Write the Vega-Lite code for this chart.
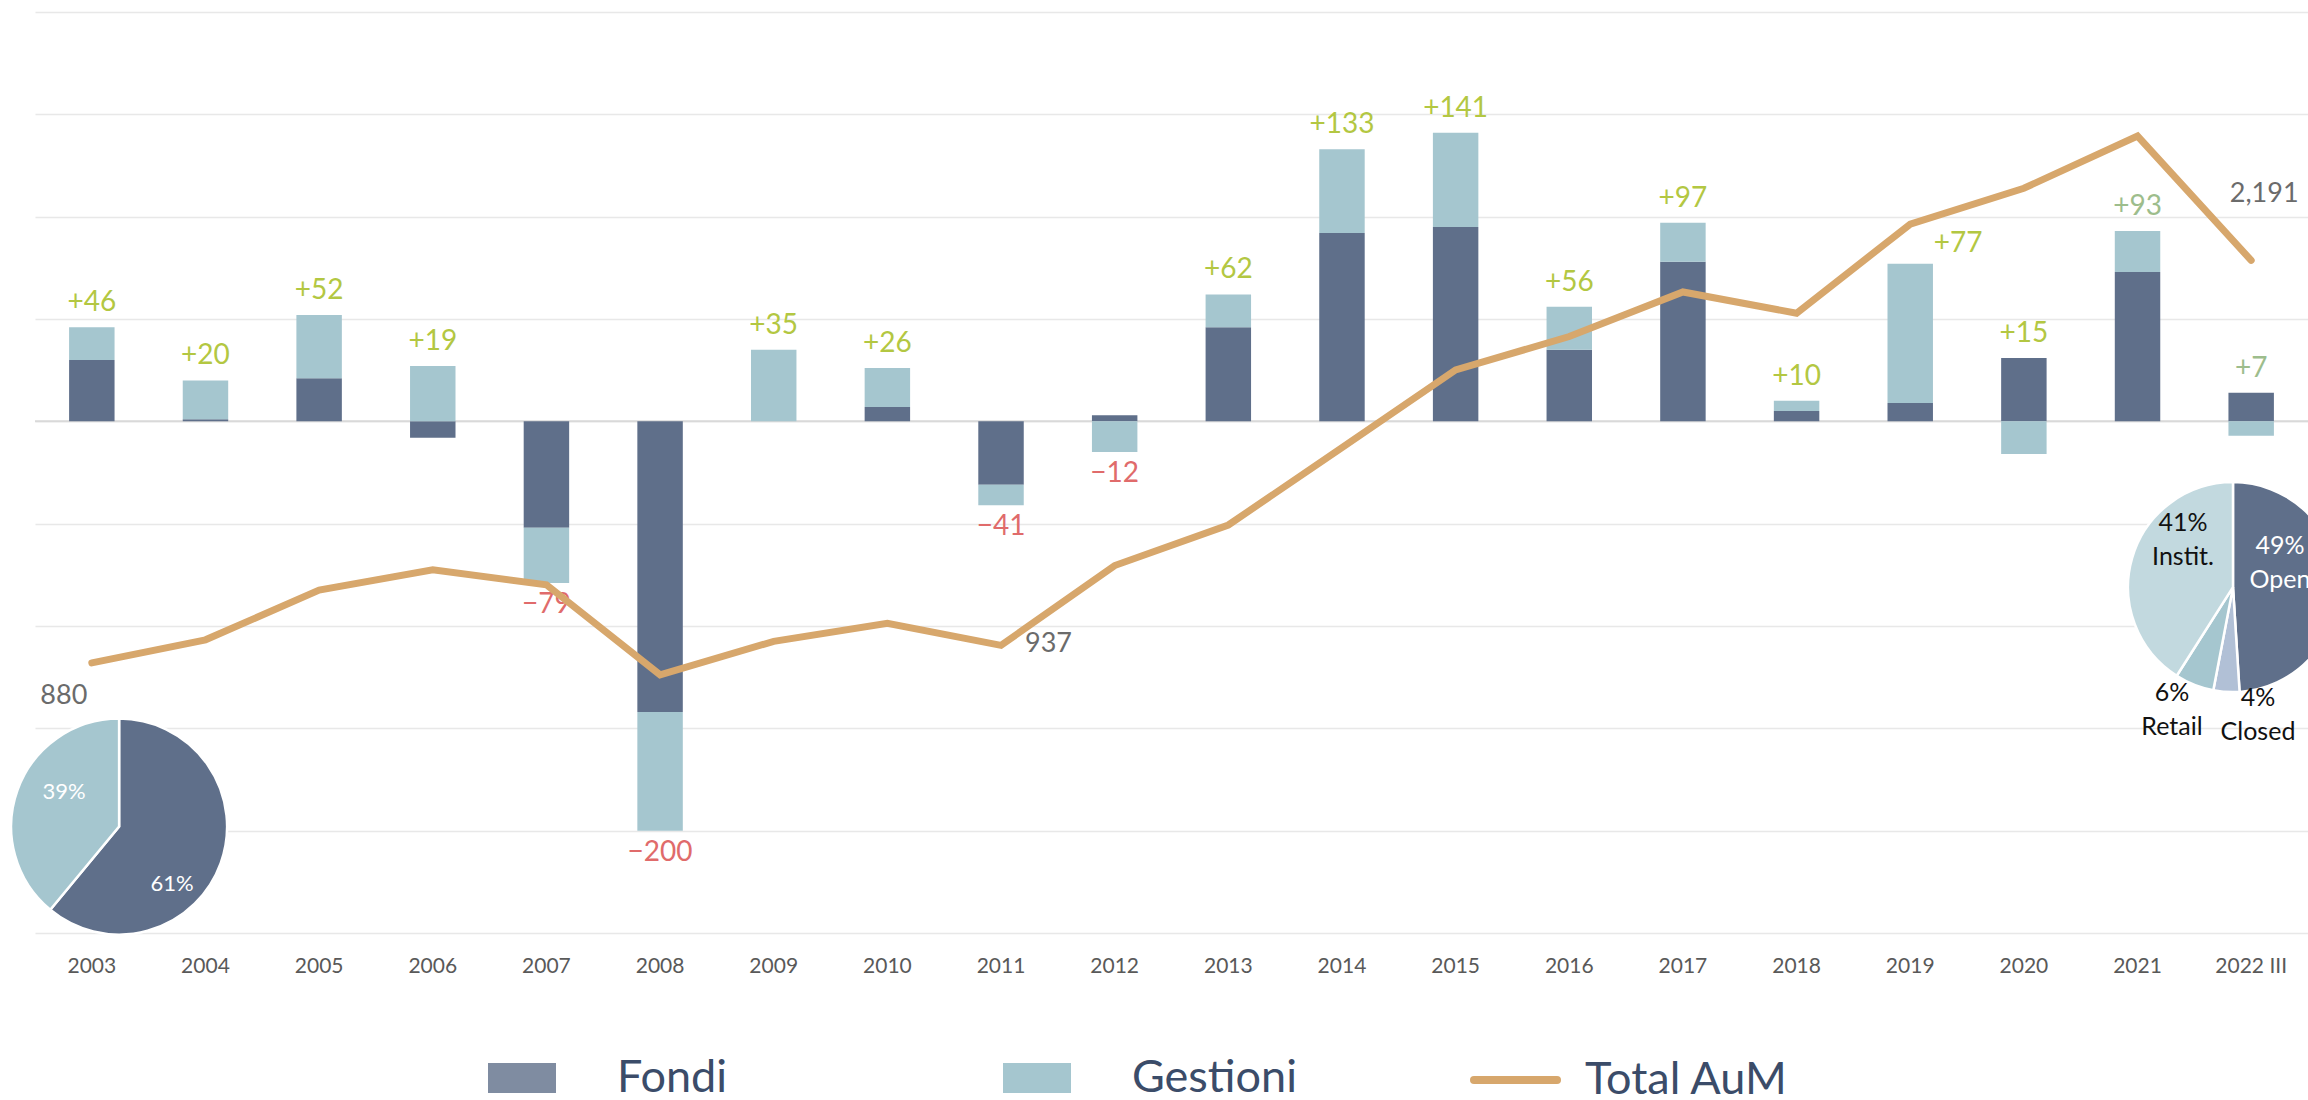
{
  "$schema": "https://vega.github.io/schema/vega-lite/v6.json",
  "width": 2273,
  "height": 921,
  "autosize": {"type": "none"},
  "padding": {"left": 35, "top": 12, "right": 0, "bottom": 167},
  "background": "#ffffff",
  "config": {"view": {"stroke": null}, "font": "Lato"},
  "datasets": {
    "flows": [
      {"year": "2003", "type": "Fondi", "value": 30}, {"year": "2003", "type": "Gestioni", "value": 16},
      {"year": "2004", "type": "Fondi", "value": 1}, {"year": "2004", "type": "Gestioni", "value": 19},
      {"year": "2005", "type": "Fondi", "value": 21}, {"year": "2005", "type": "Gestioni", "value": 31},
      {"year": "2006", "type": "Fondi", "value": -8}, {"year": "2006", "type": "Gestioni", "value": 27},
      {"year": "2007", "type": "Fondi", "value": -52}, {"year": "2007", "type": "Gestioni", "value": -27},
      {"year": "2008", "type": "Fondi", "value": -142}, {"year": "2008", "type": "Gestioni", "value": -58},
      {"year": "2009", "type": "Fondi", "value": 0}, {"year": "2009", "type": "Gestioni", "value": 35},
      {"year": "2010", "type": "Fondi", "value": 7}, {"year": "2010", "type": "Gestioni", "value": 19},
      {"year": "2011", "type": "Fondi", "value": -31}, {"year": "2011", "type": "Gestioni", "value": -10},
      {"year": "2012", "type": "Fondi", "value": 3}, {"year": "2012", "type": "Gestioni", "value": -15},
      {"year": "2013", "type": "Fondi", "value": 46}, {"year": "2013", "type": "Gestioni", "value": 16},
      {"year": "2014", "type": "Fondi", "value": 92}, {"year": "2014", "type": "Gestioni", "value": 41},
      {"year": "2015", "type": "Fondi", "value": 95}, {"year": "2015", "type": "Gestioni", "value": 46},
      {"year": "2016", "type": "Fondi", "value": 35}, {"year": "2016", "type": "Gestioni", "value": 21},
      {"year": "2017", "type": "Fondi", "value": 78}, {"year": "2017", "type": "Gestioni", "value": 19},
      {"year": "2018", "type": "Fondi", "value": 5}, {"year": "2018", "type": "Gestioni", "value": 5},
      {"year": "2019", "type": "Fondi", "value": 9}, {"year": "2019", "type": "Gestioni", "value": 68},
      {"year": "2020", "type": "Fondi", "value": 31}, {"year": "2020", "type": "Gestioni", "value": -16},
      {"year": "2021", "type": "Fondi", "value": 73}, {"year": "2021", "type": "Gestioni", "value": 20},
      {"year": "2022 III", "type": "Fondi", "value": 14}, {"year": "2022 III", "type": "Gestioni", "value": -7}
    ],
    "aum": [
      {"year": "2003", "aum": 880}, {"year": "2004", "aum": 955}, {"year": "2005", "aum": 1117},
      {"year": "2006", "aum": 1183}, {"year": "2007", "aum": 1134}, {"year": "2008", "aum": 841},
      {"year": "2009", "aum": 950}, {"year": "2010", "aum": 1009}, {"year": "2011", "aum": 937},
      {"year": "2012", "aum": 1197}, {"year": "2013", "aum": 1329}, {"year": "2014", "aum": 1581},
      {"year": "2015", "aum": 1834}, {"year": "2016", "aum": 1943}, {"year": "2017", "aum": 2088},
      {"year": "2018", "aum": 2019}, {"year": "2019", "aum": 2309}, {"year": "2020", "aum": 2426},
      {"year": "2021", "aum": 2596}, {"year": "2022 III", "aum": 2191}
    ],
    "pieA": [
      {"seg": "Fondi", "pct": 61, "k": 1, "label": "61%"},
      {"seg": "Gestioni", "pct": 39, "k": 2, "label": "39%"}
    ],
    "pieB": [
      {"seg": "Open", "pct": 49, "k": 1, "label": "49%\nOpen"},
      {"seg": "Closed", "pct": 4, "k": 2, "label": "4%\nClosed"},
      {"seg": "Retail", "pct": 6, "k": 3, "label": "6%\nRetail"},
      {"seg": "Instit.", "pct": 41, "k": 4, "label": "41%\nInstit."}
    ]
  },
  "layer": [
    {
      "layer": [
        {
          "data": {"values": [{}]},
          "mark": {"type": "rule", "color": "#d9d9d9", "strokeWidth": 2},
          "encoding": {"y": {"datum": 0, "type": "quantitative"}}
        },
        {
          "data": {"name": "flows"},
          "mark": {"type": "bar"},
          "encoding": {
            "x": {
              "field": "year", "type": "ordinal",
              "scale": {"type": "band", "paddingInner": 0.6, "paddingOuter": 0.3},
              "axis": {"title": null, "domain": false, "ticks": false, "tickSize": 0, "labelAngle": 0,
                       "labelFont": "Lato", "labelFontSize": 21, "labelColor": "#595959", "labelPadding": 22, "grid": false}
            },
            "y": {
              "field": "value", "type": "quantitative", "stack": "zero",
              "scale": {"domain": [-250, 200], "nice": false, "zero": false},
              "axis": {"title": null, "values": [-250, -200, -150, -100, -50, 0, 50, 100, 150, 200],
                       "grid": true, "gridColor": "#e8e8e8", "gridWidth": 1.5,
                       "domain": false, "ticks": false, "labels": false}
            },
            "order": {"field": "type", "sort": "ascending"},
            "color": {
              "field": "type", "type": "nominal",
              "scale": {"domain": ["Fondi", "Gestioni"], "range": ["#5f6f8a", "#a5c6cf"]},
              "legend": {
                "orient": "none", "legendX": 453, "legendY": 1066, "direction": "horizontal", "title": null,
                "symbolType": "M-1,-0.44L1,-0.44L1,0.44L-1,0.44Z", "symbolSize": 4624, "symbolStrokeWidth": 0,
                "labelFont": "Lato", "labelFontSize": 45, "labelColor": "#3b4c69", "labelOffset": 61,
                "columnPadding": 275, "padding": 0, "labelLimit": 500,
                "encode": {
                  "symbols": {"update": {"y": {"value": 0}, "fillOpacity": {"signal": "datum.value === 'Fondi' ? 0.8 : 1"}}},
                  "labels": {"update": {"y": {"value": 0}}}
                }
              }
            }
          }
        },
        {
          "data": {"name": "flows"},
          "transform": [
            {"joinaggregate": [{"op": "sum", "field": "value", "as": "net"}], "groupby": ["year"]},
            {"filter": "datum.value > 0 && datum.net > 0 && datum.year !== '2019'"},
            {"aggregate": [{"op": "sum", "field": "value", "as": "top"}, {"op": "max", "field": "net", "as": "netv"}], "groupby": ["year"]}
          ],
          "mark": {"type": "text", "baseline": "alphabetic", "align": "center", "dy": -16, "fontSize": 28, "font": "Lato"},
          "encoding": {
            "x": {"field": "year", "type": "ordinal"},
            "y": {"field": "top", "type": "quantitative"},
            "text": {"field": "netv", "type": "quantitative", "format": "+d"},
            "color": {"condition": {"test": "datum.year === '2021' || datum.year === '2022 III'", "value": "#9dbd8c"}, "value": "#b3c742"}
          }
        },
        {
          "data": {"name": "flows"},
          "transform": [
            {"joinaggregate": [{"op": "sum", "field": "value", "as": "net"}], "groupby": ["year"]},
            {"filter": "datum.value > 0 && datum.year === '2019'"},
            {"aggregate": [{"op": "sum", "field": "value", "as": "top"}, {"op": "max", "field": "net", "as": "netv"}], "groupby": ["year"]}
          ],
          "mark": {"type": "text", "baseline": "alphabetic", "align": "center", "dx": 48, "dy": -12, "fontSize": 28, "font": "Lato", "color": "#b3c742"},
          "encoding": {
            "x": {"field": "year", "type": "ordinal"},
            "y": {"field": "top", "type": "quantitative"},
            "text": {"field": "netv", "type": "quantitative", "format": "+d"}
          }
        },
        {
          "data": {"name": "flows"},
          "transform": [
            {"joinaggregate": [{"op": "sum", "field": "value", "as": "net"}], "groupby": ["year"]},
            {"filter": "datum.value < 0 && datum.net < 0"},
            {"aggregate": [{"op": "sum", "field": "value", "as": "bottom"}, {"op": "min", "field": "net", "as": "netv"}], "groupby": ["year"]}
          ],
          "mark": {"type": "text", "baseline": "top", "align": "center", "dy": 8, "fontSize": 28, "font": "Lato", "color": "#e06b6b"},
          "encoding": {
            "x": {"field": "year", "type": "ordinal"},
            "y": {"field": "bottom", "type": "quantitative"},
            "text": {"field": "netv", "type": "quantitative", "format": "+d"}
          }
        },
        {
          "data": {"name": "pieA"},
          "mark": {"type": "arc", "radius": 108, "stroke": "#ffffff", "strokeWidth": 2.5},
          "encoding": {
            "x": {"datum": "2003", "type": "ordinal", "bandPosition": 1.1},
            "y": {"datum": -198, "type": "quantitative"},
            "theta": {"field": "pct", "type": "quantitative", "stack": true},
            "order": {"field": "k", "type": "quantitative"},
            "fill": {
              "field": "seg", "type": "nominal", "legend": null,
              "scale": {"domain": ["Fondi", "Gestioni", "Open", "Closed", "Retail", "Instit."],
                        "range": ["#5f6f8a", "#a5c6cf", "#5f6f8a", "#b1c0d6", "#a5c6cf", "#c2d9df"]}
            }
          }
        },
        {
          "data": {"name": "pieB"},
          "mark": {"type": "arc", "radius": 105, "stroke": "#ffffff", "strokeWidth": 2.5},
          "encoding": {
            "x": {"datum": "2022 III", "type": "ordinal", "bandPosition": 0.1},
            "y": {"datum": -81, "type": "quantitative"},
            "theta": {"field": "pct", "type": "quantitative", "stack": true},
            "order": {"field": "k", "type": "quantitative"},
            "fill": {"field": "seg", "type": "nominal", "legend": null}
          }
        },
        {
          "data": {"name": "pieA"},
          "transform": [{"filter": "datum.seg === 'Fondi'"}],
          "mark": {"type": "text", "dx": 53, "dy": 57, "fontSize": 22, "font": "Lato", "color": "#ffffff", "align": "center", "baseline": "middle"},
          "encoding": {"x": {"datum": "2003", "type": "ordinal", "bandPosition": 1.1}, "y": {"datum": -198, "type": "quantitative"}, "text": {"field": "label"}}
        },
        {
          "data": {"name": "pieA"},
          "transform": [{"filter": "datum.seg === 'Gestioni'"}],
          "mark": {"type": "text", "dx": -55, "dy": -35, "fontSize": 22, "font": "Lato", "color": "#ffffff", "align": "center", "baseline": "middle"},
          "encoding": {"x": {"datum": "2003", "type": "ordinal", "bandPosition": 1.1}, "y": {"datum": -198, "type": "quantitative"}, "text": {"field": "label"}}
        },
        {
          "data": {"name": "pieB"},
          "transform": [{"filter": "datum.seg === 'Open'"}],
          "mark": {"type": "text", "dx": 47, "dy": -41, "fontSize": 25, "lineHeight": 34, "lineBreak": "\n", "font": "Lato", "color": "#ffffff", "align": "center", "baseline": "middle"},
          "encoding": {"x": {"datum": "2022 III", "type": "ordinal", "bandPosition": 0.1}, "y": {"datum": -81, "type": "quantitative"}, "text": {"field": "label"}}
        },
        {
          "data": {"name": "pieB"},
          "transform": [{"filter": "datum.seg === 'Closed'"}],
          "mark": {"type": "text", "dx": 25, "dy": 111, "fontSize": 25, "lineHeight": 34, "lineBreak": "\n", "font": "Lato", "color": "#111111", "align": "center", "baseline": "middle"},
          "encoding": {"x": {"datum": "2022 III", "type": "ordinal", "bandPosition": 0.1}, "y": {"datum": -81, "type": "quantitative"}, "text": {"field": "label"}}
        },
        {
          "data": {"name": "pieB"},
          "transform": [{"filter": "datum.seg === 'Retail'"}],
          "mark": {"type": "text", "dx": -61, "dy": 106, "fontSize": 25, "lineHeight": 34, "lineBreak": "\n", "font": "Lato", "color": "#111111", "align": "center", "baseline": "middle"},
          "encoding": {"x": {"datum": "2022 III", "type": "ordinal", "bandPosition": 0.1}, "y": {"datum": -81, "type": "quantitative"}, "text": {"field": "label"}}
        },
        {
          "data": {"name": "pieB"},
          "transform": [{"filter": "datum.seg === 'Instit.'"}],
          "mark": {"type": "text", "dx": -50, "dy": -64, "fontSize": 25, "lineHeight": 34, "lineBreak": "\n", "font": "Lato", "color": "#111111", "align": "center", "baseline": "middle"},
          "encoding": {"x": {"datum": "2022 III", "type": "ordinal", "bandPosition": 0.1}, "y": {"datum": -81, "type": "quantitative"}, "text": {"field": "label"}}
        }
      ]
    },
    {
      "layer": [
        {
          "data": {"name": "aum"},
          "mark": {"type": "line", "strokeWidth": 7, "strokeCap": "round", "strokeJoin": "miter"},
          "encoding": {
            "x": {"field": "year", "type": "ordinal"},
            "y": {"field": "aum", "type": "quantitative", "scale": {"domain": [0, 3000], "nice": false, "zero": true}, "axis": null},
            "stroke": {
              "datum": "Total AuM",
              "scale": {"range": ["#d7a76c"]},
              "legend": {
                "orient": "none", "legendX": 1435, "legendY": 1068, "title": null,
                "symbolType": "stroke", "symbolSize": 6889, "symbolStrokeWidth": 8,
                "labelFont": "Lato", "labelFontSize": 45, "labelColor": "#3b4c69", "labelOffset": 24,
                "padding": 0, "labelLimit": 500,
                "encode": {
                  "symbols": {"update": {"y": {"value": 0}, "strokeCap": {"value": "round"}}},
                  "labels": {"update": {"y": {"value": 0}}}
                }
              }
            }
          }
        },
        {
          "data": {"name": "aum"},
          "transform": [{"filter": "datum.year === '2003'"}],
          "mark": {"type": "text", "dx": -28, "dy": 33, "fontSize": 27, "font": "Lato", "color": "#6b6b6b", "align": "center", "baseline": "middle"},
          "encoding": {"x": {"field": "year", "type": "ordinal"}, "y": {"field": "aum", "type": "quantitative", "axis": null}, "text": {"field": "aum", "type": "quantitative", "format": ",d"}}
        },
        {
          "data": {"name": "aum"},
          "transform": [{"filter": "datum.year === '2011'"}],
          "mark": {"type": "text", "dx": 24, "dy": -1, "fontSize": 27, "font": "Lato", "color": "#6b6b6b", "align": "left", "baseline": "middle"},
          "encoding": {"x": {"field": "year", "type": "ordinal"}, "y": {"field": "aum", "type": "quantitative", "axis": null}, "text": {"field": "aum", "type": "quantitative", "format": ",d"}}
        },
        {
          "data": {"name": "aum"},
          "transform": [{"filter": "datum.year === '2022 III'"}],
          "mark": {"type": "text", "dx": 13, "dy": -66, "fontSize": 27, "font": "Lato", "color": "#6b6b6b", "align": "center", "baseline": "middle"},
          "encoding": {"x": {"field": "year", "type": "ordinal"}, "y": {"field": "aum", "type": "quantitative", "axis": null}, "text": {"field": "aum", "type": "quantitative", "format": ",d"}}
        }
      ]
    }
  ],
  "resolve": {"scale": {"y": "independent"}}
}
